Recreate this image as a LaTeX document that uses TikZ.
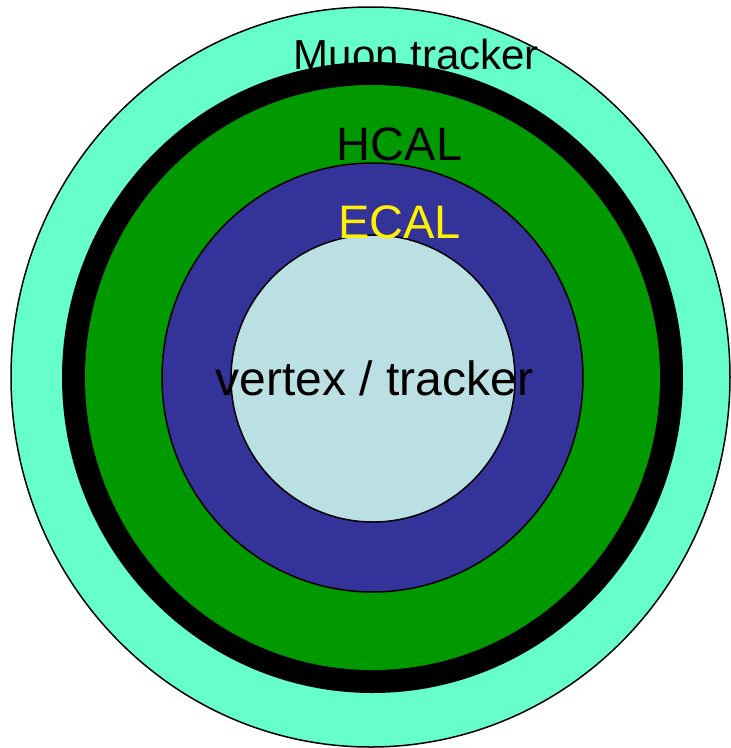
\documentclass[tikz,border=0pt]{standalone}
\usepackage{fontspec}
\setmainfont{Liberation Sans}
\definecolor{muon}{RGB}{102,255,204}
\definecolor{hcal}{RGB}{0,153,0}
\definecolor{ecal}{RGB}{51,51,153}
\definecolor{vtx}{RGB}{187,224,227}
\begin{document}
\begin{tikzpicture}[x=1pt,y=-1pt,
  ring/.style={draw=black,line width=1.5pt},
  lbl/.style={anchor=base,inner sep=0pt,font=\fontsize{47}{56}\selectfont}]
\useasboundingbox (0,0) rectangle (731,748);
\fill[white] (0,0) rectangle (731,748);
% muon
\filldraw[ring,fill=muon] (370.5,377) ellipse [x radius=359.5,y radius=370];
\node[lbl,font=\fontsize{42}{50}\selectfont] (muon) at (416.5,69) {Muon tracker};
% solenoid / black ring
\fill[black] (372.5,377.5) ellipse [x radius=310.5,y radius=315.5];
% hcal
\fill[hcal] (372.5,377.5) ellipse [x radius=287.5,y radius=292.5];
\node[lbl] (hcal) at (399.5,160) {HCAL};
% ecal
\filldraw[ring,fill=ecal] (372.5,377.5) ellipse [x radius=210.5,y radius=214.5];
% vertex
\filldraw[ring,fill=vtx] (373,378.5) ellipse [x radius=142,y radius=143.5];
\node[lbl,text=yellow] (ecal) at (399.5,238) {ECAL};
\node[lbl,font=\fontsize{48}{57}\selectfont] (vertex) at (374.5,395) {vertex / tracker};
\end{tikzpicture}
\end{document}
